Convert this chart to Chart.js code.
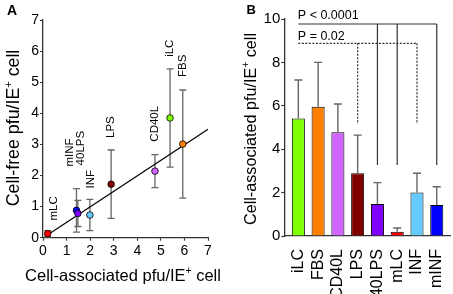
<!DOCTYPE html>
<html><head><meta charset="utf-8">
<script src="https://cdn.jsdelivr.net/npm/chart.js@4"></script>
<style>
html,body{margin:0;padding:0;background:#fff;width:453px;height:294px;overflow:hidden}
#wa{position:absolute;left:0;top:0;width:230px;height:294px}
#wb{position:absolute;left:230px;top:0;width:223px;height:294px}
</style></head><body>
<div id="wa"><canvas id="ca" width="230" height="294"></canvas></div>
<div id="wb"><canvas id="cb" width="223" height="294"></canvas></div>
<script>
// ---------- Panel A data ----------
const scatterLabels = ['mLC','mINF','40LPS','INF','LPS','CD40L','iLC','FBS'];
const cellAssoc     = [0.20, 1.42, 1.48, 1.99, 2.89, 4.75, 5.39, 5.93];
const cellFree      = [0.13, 0.88, 0.78, 0.73, 1.72, 2.14, 3.85, 3.01];
const cellFreeErr   = [0.10, 0.70, 0.42, 0.50, 1.10, 0.53, 1.58, 1.74];
const fitX = [0.30, 7.00];
const fitY = [0.14, 3.49];
const axisTicksA = [0,1,2,3,4,5,6,7];

// ---------- Panel B data ----------
const barLabels = ['iLC','FBS','CD40L','LPS','40LPS','mLC','INF','mINF'];
const barValues = [5.42, 5.96, 4.78, 2.89, 1.47, 0.20, 2.00, 1.43];
const barErr    = [1.77, 2.04, 1.30, 1.76, 0.99, 0.17, 0.89, 0.84];
const yTicksB   = [0,2,4,6,8,10];

// significance brackets (value coordinates)
const sigSolid  = {text:'P < 0.0001', from:0, to:7, level:9.77, drops:[4,5,7], dropTo:3.27};
const sigDashed = {text:'P = 0.02',   from:0, to:6, level:8.88, drops:[3,6],   dropTo:5.16};

// ---------- styles ----------
const FAM = '"Liberation Sans", Arial, Helvetica, sans-serif';
const colorMap = {iLC:'#80ff00', FBS:'#ff8000', CD40L:'#d066ff', LPS:'#800000',
                  '40LPS':'#8000ff', mLC:'#ff0000', INF:'#66ccff', mINF:'#0000ff'};
const AXIS = '#333';
const ERR = '#666';
const labelDx  = {mLC:6, mINF:-7, '40LPS':3, INF:1, LPS:0, CD40L:0, iLC:0, FBS:0};
const labelGap = {mLC:10, mINF:22, '40LPS':35, INF:11, LPS:12, CD40L:13, iLC:12, FBS:13};

function richText(ctx, segs, size, x, y, angle) {
  ctx.save();
  ctx.translate(x, y); ctx.rotate(angle);
  const fonts = segs.map(s => (s[1] ? size*0.62 : size) + 'px ' + FAM);
  const widths = segs.map((s,i) => { ctx.font = fonts[i]; return ctx.measureText(s[0]).width; });
  const total = widths.reduce((a,b)=>a+b,0);
  let cx = -total/2;
  ctx.textAlign = 'left'; ctx.textBaseline = 'alphabetic'; ctx.fillStyle = '#000';
  segs.forEach((s,i) => {
    ctx.font = fonts[i];
    ctx.fillText(s[0], cx, s[1] ? size*0.36 - size*0.40 : size*0.36);
    cx += widths[i];
  });
  ctx.restore();
}
function noPad(s) { s.paddingLeft = 0; s.paddingRight = 0; s.paddingTop = 0; s.paddingBottom = 0; }

// ---------- Panel A ----------
const errPluginA = {
  id:'errA',
  beforeDatasetsDraw(chart) {
    const {ctx, scales:{x, y}} = chart;
    ctx.save();
    ctx.strokeStyle = ERR; ctx.lineWidth = 1.3;
    cellAssoc.forEach((v,i) => {
      const px = x.getPixelForValue(v);
      const t = y.getPixelForValue(cellFree[i] + cellFreeErr[i]);
      const b = y.getPixelForValue(Math.max(0, cellFree[i] - cellFreeErr[i]));
      ctx.beginPath();
      ctx.moveTo(px, t); ctx.lineTo(px, b);
      ctx.moveTo(px-3.5, t); ctx.lineTo(px+3.5, t);
      ctx.moveTo(px-3.5, b); ctx.lineTo(px+3.5, b);
      ctx.stroke();
    });
    ctx.restore();
  },
  afterDraw(chart) {
    const {ctx, scales:{x, y}} = chart;
    ctx.save();
    ctx.fillStyle = '#000';
    ctx.font = '11.5px ' + FAM;
    ctx.textAlign = 'left'; ctx.textBaseline = 'middle';
    scatterLabels.forEach((lab,i) => {
      const px = x.getPixelForValue(cellAssoc[i]) + labelDx[lab];
      const t = y.getPixelForValue(cellFree[i] + cellFreeErr[i]) - labelGap[lab];
      ctx.save();
      ctx.translate(px, t); ctx.rotate(-Math.PI/2);
      ctx.fillText(lab, 0, 0);
      ctx.restore();
    });
    ctx.font = 'bold 14px ' + FAM;
    ctx.textBaseline = 'alphabetic';
    ctx.fillText('A', 7, 15);
    ctx.restore();
    richText(ctx, [['Cell-free pfu/IE',0],['+',1],[' cell',0]], 17.8, 12.5, 128, -Math.PI/2);
    richText(ctx, [['Cell-associated pfu/IE',0],['+',1],[' cell',0]], 16.5, 123, 275, 0);
  }
};

new Chart(document.getElementById('ca'), {
  type:'scatter',
  data:{datasets:[
    {type:'line', showLine:true, data: fitX.map((v,i)=>({x:v, y:fitY[i]})),
     borderColor:'#000', borderWidth:1.2, pointRadius:0, fill:false, order:2},
    {data: cellAssoc.map((v,i)=>({x:v, y:cellFree[i]})),
     backgroundColor: scatterLabels.map(l=>colorMap[l]), borderColor:'#000', borderWidth:0.8,
     pointRadius:3.3, order:1}
  ]},
  options:{
    responsive:false, animation:false, devicePixelRatio:1,
    layout:{padding:{top:20, right:22, left:0, bottom:0}},
    plugins:{legend:{display:false}, tooltip:{enabled:false}},
    scales:{
      x:{type:'linear', min:0, max:7, offset:false,
         afterBuildTicks: s => { s.ticks = axisTicksA.map(v=>({value:v})); },
         ticks:{color:'#000', font:{family:FAM, size:14}, padding:2},
         grid:{display:true, drawOnChartArea:false, tickLength:3, color:AXIS, tickWidth:1.2},
         border:{color:AXIS, width:1.3},
         afterFit: s => { s.height = 56.3; noPad(s); }},
      y:{type:'linear', min:0, max:7,
         afterBuildTicks: s => { s.ticks = axisTicksA.map(v=>({value:v})); },
         ticks:{color:'#000', font:{family:FAM, size:14}, padding:1},
         grid:{display:true, drawOnChartArea:false, tickLength:3, color:AXIS, tickWidth:1.2},
         border:{color:AXIS, width:1.3},
         afterFit: s => { s.width = 43; noPad(s); }}
    }
  },
  plugins:[errPluginA]
});

// ---------- Panel B ----------
const errPluginB = {
  id:'errB',
  afterDatasetsDraw(chart) {
    const {ctx, scales:{x, y}} = chart;
    ctx.save();
    ctx.strokeStyle = ERR; ctx.lineWidth = 1.4;
    barValues.forEach((v,i) => {
      const px = x.getPixelForValue(i);
      const t = y.getPixelForValue(v + barErr[i]);
      const b = y.getPixelForValue(v);
      ctx.beginPath();
      ctx.moveTo(px, b); ctx.lineTo(px, t);
      ctx.moveTo(px-4, t); ctx.lineTo(px+4, t);
      ctx.stroke();
    });
    ctx.restore();
  },
  afterDraw(chart) {
    const {ctx, scales:{x, y}} = chart;
    ctx.save();
    ctx.strokeStyle = '#333'; ctx.lineWidth = 1.2;
    [sigSolid, sigDashed].forEach((s, k) => {
      ctx.setLineDash(k === 0 ? [] : [2, 1.5]);
      const ly = y.getPixelForValue(s.level);
      ctx.beginPath();
      ctx.moveTo(x.getPixelForValue(s.from), ly);
      ctx.lineTo(x.getPixelForValue(s.to), ly);
      s.drops.forEach(d => {
        const px = x.getPixelForValue(d);
        ctx.moveTo(px, ly); ctx.lineTo(px, y.getPixelForValue(s.dropTo));
      });
      ctx.stroke();
      ctx.setLineDash([]);
      ctx.fillStyle = '#000';
      ctx.font = '12.5px ' + FAM;
      ctx.textAlign = 'left'; ctx.textBaseline = 'alphabetic';
      ctx.fillText(s.text, x.getPixelForValue(s.from) - 0.5, ly - (k === 0 ? 5 : 3.5));
    });
    ctx.font = 'bold 13px ' + FAM;
    ctx.fillText('B', 16.5, 13.5);
    ctx.restore();
    richText(ctx, [['Cell-associated pfu/IE',0],['+',1],[' cell',0]], 16.2, 20, 129, -Math.PI/2);
  }
};

new Chart(document.getElementById('cb'), {
  type:'bar',
  data:{datasets:[{
    data: barValues.map((v,i)=>({x:i, y:v})),
    backgroundColor: barLabels.map(l=>colorMap[l]),
    borderColor:'#000', borderWidth:1, barPercentage:0.66, categoryPercentage:1
  }]},
  options:{
    responsive:false, animation:false, devicePixelRatio:1,
    layout:{padding:{top:19, right:3, left:0, bottom:0}},
    plugins:{legend:{display:false}, tooltip:{enabled:false}},
    scales:{
      x:{type:'linear', min:-0.71, max:7.67, offset:false,
         afterBuildTicks: s => { s.ticks = barLabels.map((l,i)=>({value:i})); },
         ticks:{color:'#000', font:{family:FAM, size:16}, padding:5, autoSkip:false,
                minRotation:90, maxRotation:90,
                callback: v => barLabels[v]},
         grid:{display:false, offset:false},
         border:{display:true, color:AXIS, width:1.3},
         afterFit: s => { s.height = 58; noPad(s); }},
      y:{type:'linear', min:0, max:10,
         afterBuildTicks: s => { s.ticks = yTicksB.map(v=>({value:v})); },
         ticks:{color:'#000', font:{family:FAM, size:15}, padding:1},
         grid:{display:true, drawOnChartArea:false, tickLength:3, color:AXIS, tickWidth:1.2},
         border:{color:AXIS, width:1.3},
         afterFit: s => { s.width = 54.3; noPad(s); }}
    }
  },
  plugins:[errPluginB]
});
</script>
</body></html>
